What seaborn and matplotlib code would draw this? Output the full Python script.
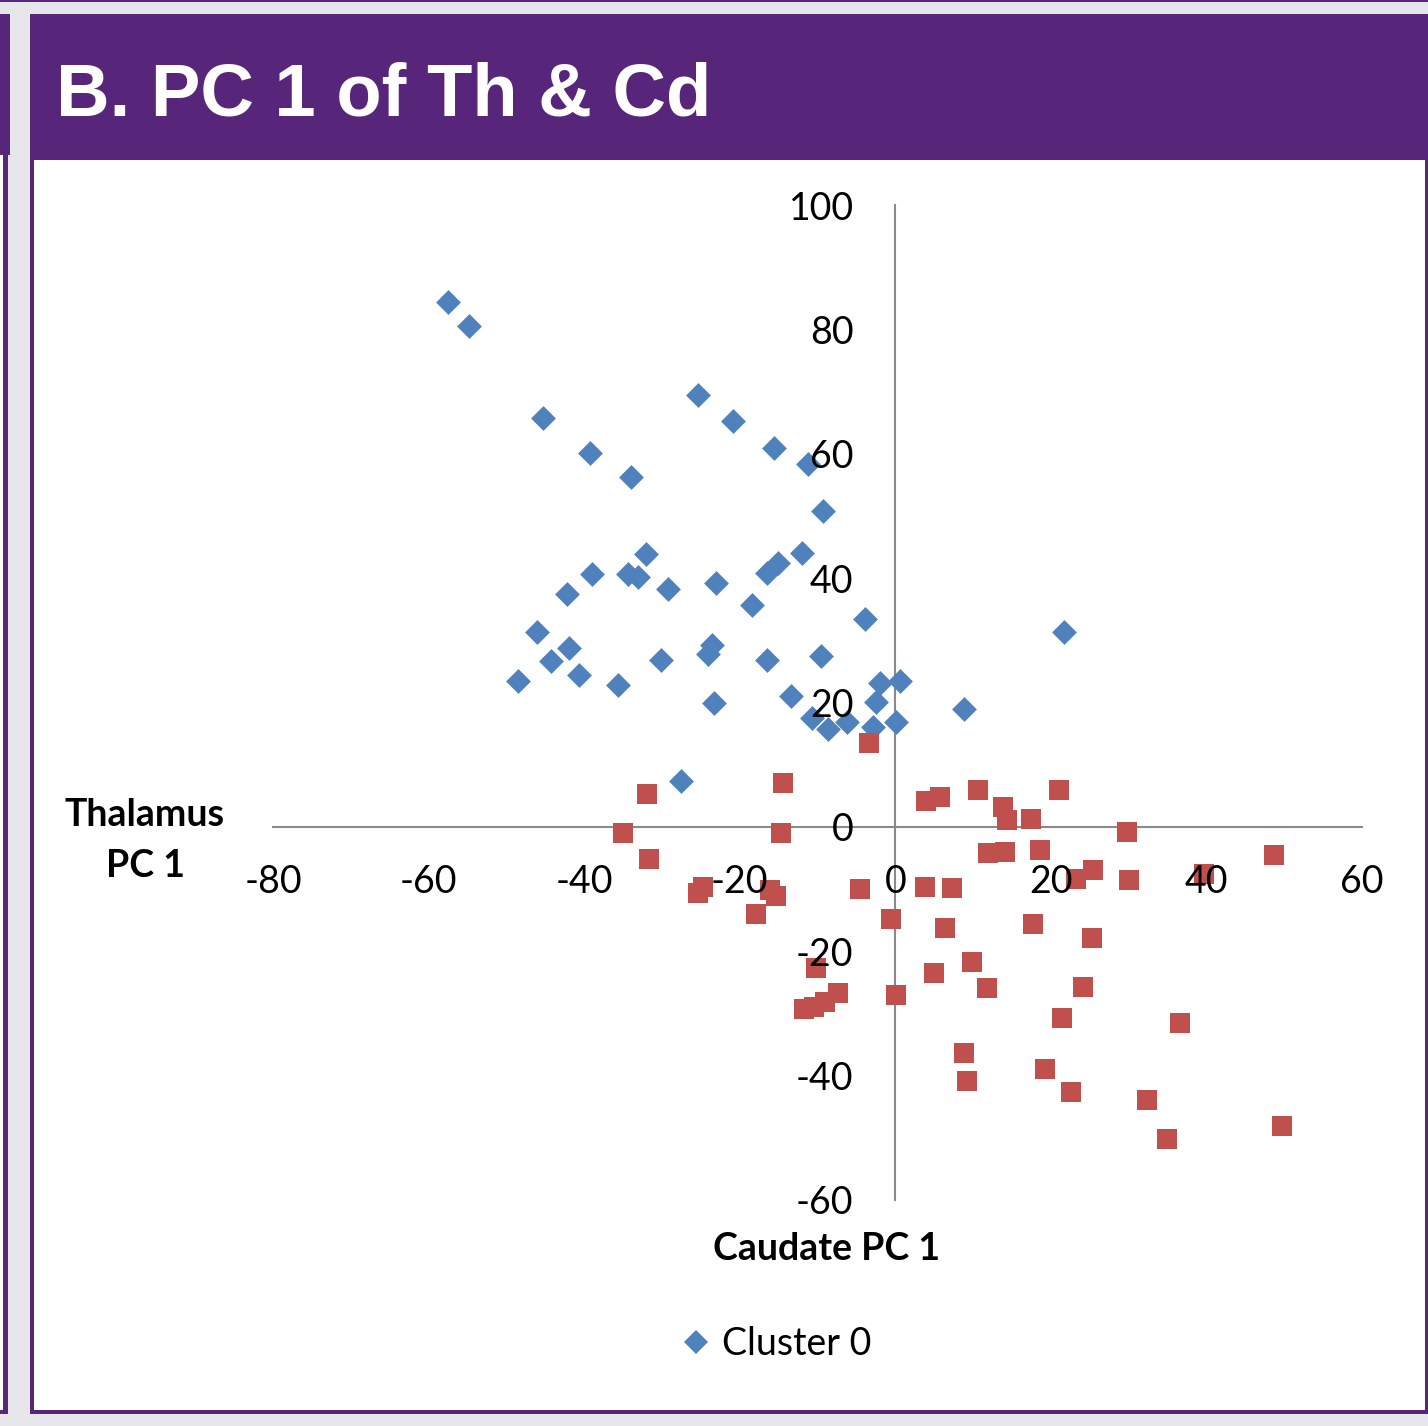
import pandas as pd
import matplotlib.pyplot as plt
from matplotlib.patches import Rectangle
from matplotlib.lines import Line2D
import seaborn as sns

# cluster 0 (mavi elmaslar)
c0_x = [-57.5, -54.8, -45.3, -25.4, -20.9, -39.2, -15.6, -11.2, -34.0, -9.3, -32.0, -12.0, -15.1, -16.5,
        -39.0, -34.3, -33.1, -29.2, -23.1, -42.2, -18.4, -3.9, -46.0, -42.0, -23.5, -24.1, -44.3, -30.1,
        -16.5, -9.5, -40.6, -48.5, -35.7, -23.3, -13.4, -2.0, 0.6, -2.5, -10.7, -8.6, -6.2, -2.9, 0.1,
        8.8, -27.5, 21.7]
c0_y = [84.4, 80.5, 65.7, 69.5, 65.3, 60.2, 61.0, 58.4, 56.3, 50.8, 43.8, 44.1, 42.4, 40.8,
        40.6, 40.6, 40.2, 38.3, 39.2, 37.4, 35.6, 33.4, 31.3, 28.7, 29.2, 27.8, 26.6, 26.9,
        26.9, 27.5, 24.5, 23.4, 22.8, 20.0, 21.1, 23.1, 23.4, 20.1, 17.5, 15.8, 16.8, 16.0, 16.9,
        19.0, 7.4, 31.3]

# cluster 1 (kirmizi kareler)
c1_x = [-3.4, -14.4, -31.9, 3.9, 5.7, 10.6, 21.1, 13.9, 14.4, 17.5, -35.0, -14.7, -31.7, 11.9, 14.1,
        18.6, -25.3, -24.7, -16.1, -15.3, -17.9, -4.6, 3.8, 7.3, 23.2, 25.4, -0.6, 6.4, 17.7, 25.3,
        -10.2, 9.9, 5.0, 11.8, 0.1, -7.4, -9.0, -10.5, -11.7, 24.1, 21.4, 8.8, 9.2, 19.3, 22.6,
        29.8, 48.7, 30.0, 39.7, 36.6, 32.4, 34.9, 49.7]
c1_y = [13.5, 7.1, 5.3, 4.1, 4.8, 5.9, 5.9, 3.2, 1.1, 1.2, -1.0, -1.0, -5.1, -4.2, -4.0,
        -3.7, -10.6, -9.6, -10.1, -11.1, -14.0, -10.0, -9.6, -9.9, -8.4, -6.9, -14.8, -16.2, -15.6, -17.9,
        -22.7, -21.8, -23.5, -25.9, -27.0, -26.7, -28.2, -28.9, -29.3, -25.8, -30.8, -36.3, -40.9, -39.0, -42.6,
        -0.9, -4.5, -8.6, -7.5, -31.6, -43.9, -50.2, -48.1]

x_ticks = [-80, -60, -40, -20, 0, 20, 40, 60]
y_ticks = [-60, -40, -20, 0, 20, 40, 60, 80, 100]

title = 'B. PC 1 of Th & Cd'
x_label = 'Caudate PC 1'
y_label = ['Thalamus', 'PC 1']
legend_label = 'Cluster 0'

blue = '#4F81BD'
red = '#C0504D'
purple = '#57257A'

df0 = pd.DataFrame({'x': c0_x, 'y': c0_y})
df1 = pd.DataFrame({'x': c1_x, 'y': c1_y})

sns.set_style('white')
plt.rcParams['font.family'] = ['Lato', 'DejaVu Sans']
plt.rcParams['text.color'] = 'black'

W, H = 1428, 1426
fig = plt.figure(figsize=(W / 100, H / 100), dpi=100)
fig.patch.set_facecolor('#E7E6EB')


def px_rect(x0, y0, x1, y1, color):
    # piksel koordinatlarini figure oranina cevir
    fig.patches.append(Rectangle((x0 / W, 1 - y1 / H), (x1 - x0) / W, (y1 - y0) / H,
                                 transform=fig.transFigure, facecolor=color, edgecolor='none', zorder=-5))


# cerceveler
px_rect(0, 0, W, 2, purple)
px_rect(0, 14, 10, 155, purple)
px_rect(0, 155, 3, 1410, 'white')
px_rect(3, 155, 8, 1414, purple)
px_rect(0, 1410, 3, 1414, purple)
px_rect(30, 14, W, 1414, purple)
px_rect(34, 160, 1425, 1410, 'white')

fig.text(56 / W, 1 - 115 / H, title, color='white', fontsize=53.5, fontweight='bold',
         family='Liberation Sans', ha='left', va='baseline')

ax = fig.add_axes([273 / W, 1 - 1200 / H, (1362 - 273) / W, (1200 - 205) / H])
ax.patch.set_alpha(0)

sns.scatterplot(data=df0, x='x', y='y', marker='D', s=160, color=blue, linewidth=0, ax=ax, zorder=2)
sns.scatterplot(data=df1, x='x', y='y', marker='s', s=190, color=red, linewidth=0, ax=ax, zorder=2)

ax.set_xlim(-80, 60)
ax.set_ylim(-60, 100)
ax.set_xticks(x_ticks)
ax.set_yticks(y_ticks)
ax.set_xticklabels([str(t) for t in x_ticks])
ax.set_yticklabels([str(t) for t in y_ticks])
ax.set_xlabel('')
ax.set_ylabel('')

for side in ['top', 'right']:
    ax.spines[side].set_visible(False)
for side in ['left', 'bottom']:
    ax.spines[side].set_position('zero')
    ax.spines[side].set_color('#8A8A8A')
    ax.spines[side].set_linewidth(1.5)
    ax.spines[side].set_zorder(1)

ax.tick_params(axis='both', length=0, labelsize=27, labelcolor='black')
ax.tick_params(axis='x', pad=27)
ax.tick_params(axis='y', pad=30)
ax.xaxis.set_zorder(3)
ax.yaxis.set_zorder(3)
for lab in ax.get_yticklabels():
    lab.set_va('center_baseline')

fig.text(145 / W, 1 - 826 / H, y_label[0], fontsize=27, fontweight='bold', ha='center', va='baseline')
fig.text(145 / W, 1 - 877 / H, y_label[1], fontsize=27, fontweight='bold', ha='center', va='baseline')
fig.text(827 / W, 1 - 1260 / H, x_label, fontsize=27, fontweight='bold', ha='center', va='baseline')

handle = Line2D([], [], marker='D', color=blue, linestyle='none', markersize=12.5, markeredgewidth=0)
leg = ax.legend(handles=[handle], labels=[legend_label], loc='center left',
                bbox_to_anchor=(681 / W, 1 - 1344 / H), bbox_transform=fig.transFigure,
                frameon=False, fontsize=27, handlelength=0.8, handletextpad=0.3, borderpad=0, borderaxespad=0)
for t in leg.get_texts():
    t.set_color('black')

fig.savefig('out.png', dpi=100, facecolor=fig.get_facecolor())
